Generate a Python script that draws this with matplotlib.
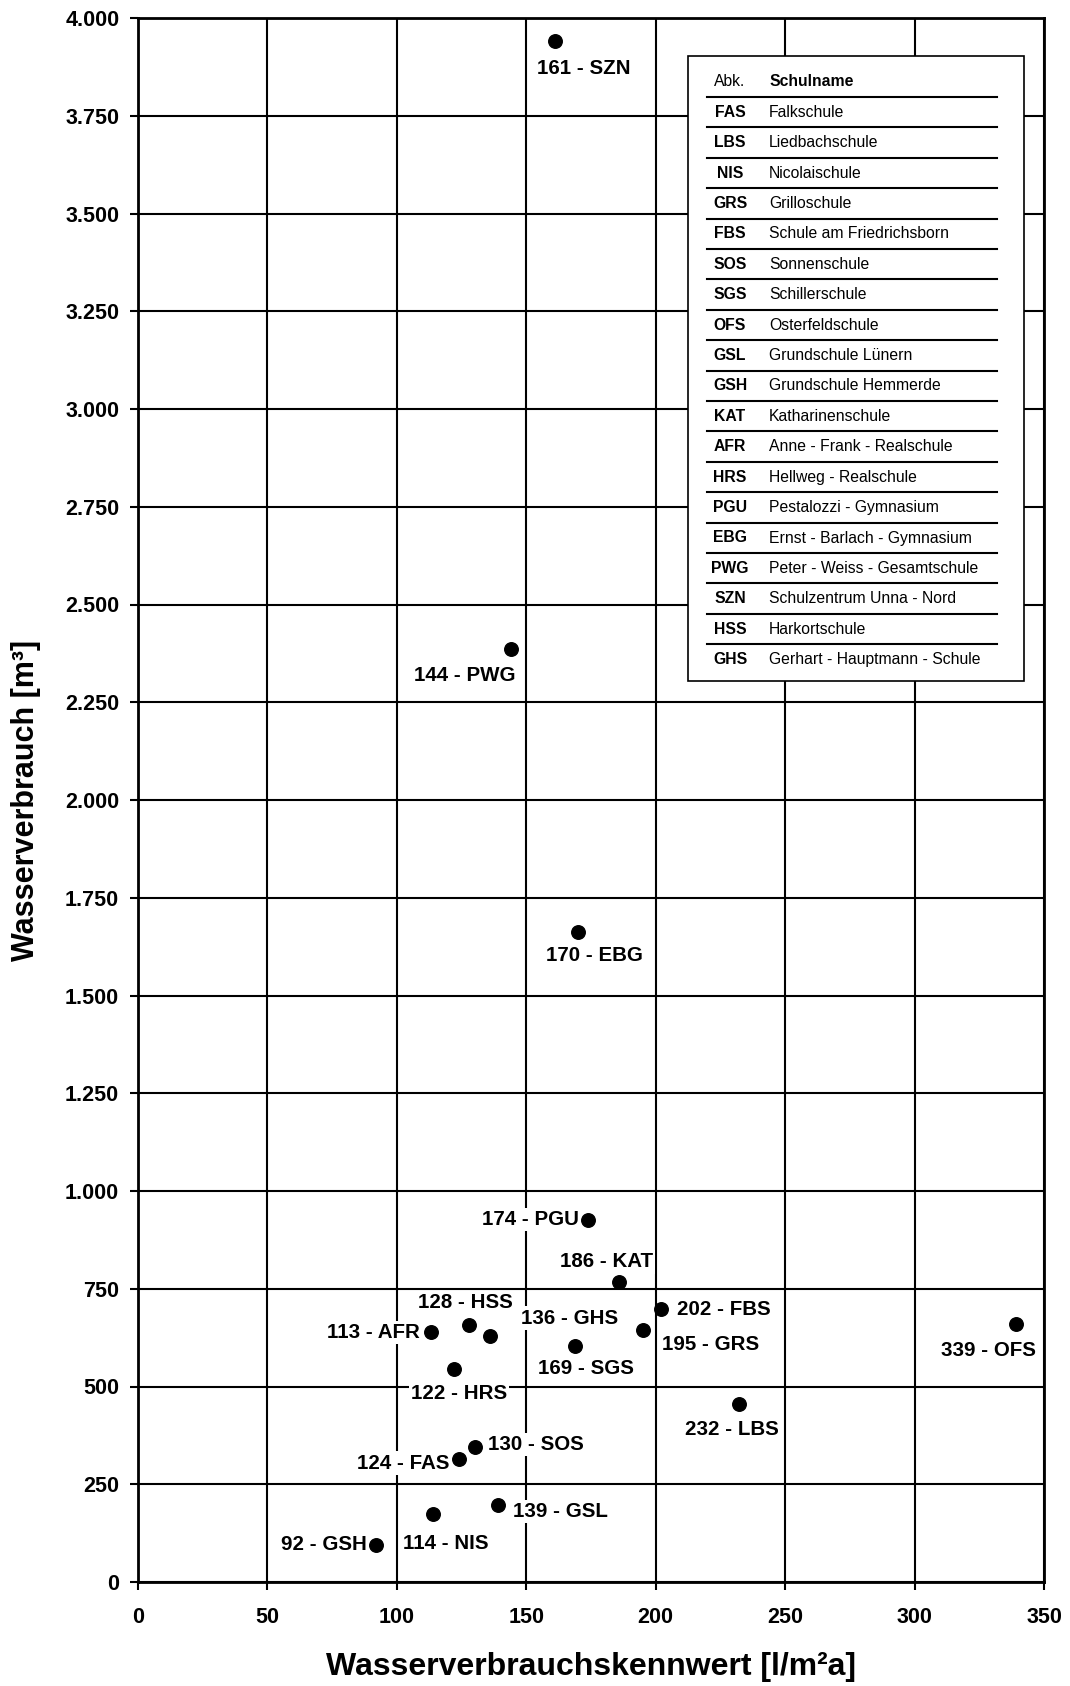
import matplotlib
matplotlib.use("Agg")
import matplotlib.pyplot as plt
from matplotlib.ticker import FuncFormatter, MultipleLocator
from matplotlib.patches import Rectangle
from matplotlib.lines import Line2D

plt.rcParams['font.family'] = ['Liberation Sans', 'DejaVu Sans']

# Data
codes = ["SZN", "PWG", "EBG", "PGU", "KAT", "FBS", "GRS", "SGS", "GHS", "HSS",
         "AFR", "HRS", "LBS", "OFS", "SOS", "FAS", "GSL", "NIS", "GSH"]
kennwert = [161, 144, 170, 174, 186, 202, 195, 169, 136, 128,
            113, 122, 232, 339, 130, 124, 139, 114, 92]
verbrauch = [3942, 2387, 1663, 926, 767, 697, 644, 603, 629, 657,
             639, 545, 454, 661, 345, 315, 198, 173, 95]

# label offsets (points) and alignment
label_pos = {
    "SZN": (21, -20, 'center'), "PWG": (-33, -19.5, 'center'), "EBG": (11.5, -17, 'center'),
    "PGU": (-6.5, 0, 'right'), "KAT": (-9.5, 14.5, 'center'), "FBS": (11.5, 0, 'left'),
    "GRS": (14, -10, 'left'), "SGS": (7.5, -16, 'center'), "GHS": (22, 13, 'left'),
    "HSS": (-2.5, 16, 'center'), "AFR": (-8, 0, 'right'), "HRS": (3.6, -18, 'center'),
    "LBS": (-4.6, -18, 'center'), "OFS": (-19.5, -19.5, 'center'), "SOS": (9.4, 2, 'left'),
    "FAS": (-7, -3, 'right'), "GSL": (11, -4.7, 'left'), "NIS": (9.3, -21, 'center'),
    "GSH": (-6.5, 0, 'right'),
}

legend_abk = ["FAS", "LBS", "NIS", "GRS", "FBS", "SOS", "SGS", "OFS", "GSL", "GSH",
              "KAT", "AFR", "HRS", "PGU", "EBG", "PWG", "SZN", "HSS", "GHS"]
legend_names = ["Falkschule", "Liedbachschule", "Nicolaischule", "Grilloschule",
                "Schule am Friedrichsborn", "Sonnenschule", "Schillerschule",
                "Osterfeldschule", "Grundschule Lünern", "Grundschule Hemmerde",
                "Katharinenschule", "Anne - Frank - Realschule", "Hellweg - Realschule",
                "Pestalozzi - Gymnasium", "Ernst - Barlach - Gymnasium",
                "Peter - Weiss - Gesamtschule", "Schulzentrum Unna - Nord",
                "Harkortschule", "Gerhart - Hauptmann - Schule"]

W, H = 1070, 1686
fig = plt.figure(figsize=(W / 100, H / 100), dpi=100)
L, R, T, B = 138, 1044, 18, 1582
ax = fig.add_axes([L / W, 1 - B / H, (R - L) / W, (B - T) / H])
ax.set_xlim(0, 350)
ax.set_ylim(0, 4000)
ax.xaxis.set_major_locator(MultipleLocator(50))
ax.yaxis.set_major_locator(MultipleLocator(250))
ax.yaxis.set_major_formatter(FuncFormatter(lambda v, p: f"{int(v):,}".replace(",", ".")))
ax.grid(True, color='black', linewidth=1.5)
ax.set_axisbelow(True)
for s in ax.spines.values():
    s.set_linewidth(2)
ax.tick_params(axis='both', direction='out', length=5.5, width=1.5, labelsize=15.5)
ax.tick_params(axis='x', pad=12.5)
ax.tick_params(axis='y', pad=8)
for lab in ax.get_xticklabels() + ax.get_yticklabels():
    lab.set_fontweight('bold')

ax.scatter(kennwert, verbrauch, s=95, color='black', zorder=4)

for c, x, y in zip(codes, kennwert, verbrauch):
    dx, dy, ha = label_pos[c]
    ax.annotate(f"{x} - {c}", (x, y), xytext=(dx, dy), textcoords='offset points',
                ha=ha, va='center', fontsize=14.8, fontweight='bold', zorder=5,
                bbox=dict(boxstyle='square,pad=0.1', fc='white', ec='none'))

fig.text(591 / W, 1 - 1667 / H, "Wasserverbrauchskennwert [l/m²a]", ha='center', va='center',
         fontsize=23, fontweight='bold')
fig.text(26 / W, 1 - 800 / H, "Wasserverbrauch [m³]", ha='center', va='center',
         rotation=90, fontsize=22, fontweight='bold')

# Legend table
bx0, bx1, by0, by1 = 688, 1024, 56, 681
fig.patches.append(Rectangle((bx0 / W, 1 - by1 / H), (bx1 - bx0) / W, (by1 - by0) / H,
                             transform=fig.transFigure, fc='white', ec='black', lw=1.2, zorder=10))
row0, step = 82, 30.4
abk_x, name_x = 730, 769
fs_leg = 11.3
fig.text(abk_x / W, 1 - row0 / H, "Abk.", ha='center', va='center', fontsize=fs_leg, zorder=11)
fig.text(name_x / W, 1 - row0 / H, "Schulname", ha='left', va='center', fontsize=fs_leg,
         fontweight='bold', zorder=11)
for k in range(len(legend_abk)):
    ly = 97 + step * k
    fig.add_artist(Line2D([707 / W, 997 / W], [1 - ly / H, 1 - ly / H], transform=fig.transFigure,
                          color='black', lw=1.5, zorder=11))
for i, (a, n) in enumerate(zip(legend_abk, legend_names)):
    y = row0 + step * (i + 1)
    fig.text(abk_x / W, 1 - y / H, a, ha='center', va='center', fontsize=fs_leg,
             fontweight='bold', zorder=11)
    fig.text(name_x / W, 1 - y / H, n, ha='left', va='center', fontsize=fs_leg, zorder=11)

fig.savefig("out.png", dpi=100)
